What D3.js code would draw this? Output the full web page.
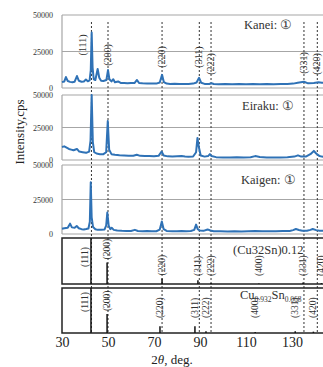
<!DOCTYPE html>
<html>
<head>
<meta charset="utf-8">
<script src="https://cdn.jsdelivr.net/npm/d3@7"></script>
<style>
  body { margin: 0; background: #fff; }
  svg { display: block; overflow: hidden; font-family: "Liberation Serif", "Times New Roman", serif; }
</style>
</head>
<body>
<svg id="chart" width="323" height="367"></svg>
<script>
// --- data: [2theta, intensity cps] ---
const kanei = [
  [30, 4000], [31, 4500], [31.7, 7500], [32.5, 4800], [33.5, 4200], [34.5, 4000], [35.5, 4300],
  [36.5, 8200], [37.3, 5000], [38.5, 4300], [39.5, 4500], [40.4, 5800], [41.2, 4600], [42, 5200],
  [42.5, 12000], [42.9, 38000], [43.3, 14000], [43.8, 6000], [44.5, 5500], [45.5, 13000], [46.2, 7000],
  [47, 5000], [48, 4800], [49.3, 5500], [50, 12300], [50.6, 6000], [51.5, 4500], [52.3, 6000],
  [53, 4000], [54.4, 4500], [55.5, 3500], [57, 3400], [58.5, 3300], [60, 3500], [61.5, 3400],
  [62.6, 5500], [63.5, 3400], [65, 3200], [67, 3100], [69, 3100], [71, 3000], [72.5, 3800],
  [73.5, 9000], [74.3, 4000], [75.5, 3000], [77, 2800], [79, 2900], [81, 2700], [83, 2800],
  [85, 2700], [87, 3000], [88.5, 3800], [89.6, 7000], [90.5, 3600], [92, 2800], [94, 2700],
  [95, 3200], [96, 2700], [98, 2600], [101, 2700], [104, 2600], [107, 2800], [110, 2600],
  [113, 2700], [116, 2600], [119, 2700], [122, 2600], [125, 2700], [128, 2800], [130.5, 3000],
  [132.5, 3600], [135.2, 4300], [137, 3200], [139.5, 3500], [141.5, 3900], [143, 3600], [145, 3500]
];
const eiraku = [
  [30, 10000], [31, 10500], [32, 9500], [33, 8500], [34, 8000], [35, 7500], [36.5, 8500],
  [37.5, 6500], [39, 6000], [40.5, 5500], [41.8, 6500], [42.4, 15000], [42.9, 50000], [43.4, 14000],
  [44, 6000], [45, 5000], [46.5, 4500], [48, 4500], [49.2, 6000], [49.9, 30000], [50.5, 8000],
  [51.5, 4500], [53, 4000], [55, 3600], [57, 3500], [59, 3300], [61, 3300], [62.5, 4000],
  [64, 3200], [66, 3000], [68, 3000], [70, 2900], [72, 3200], [73.3, 6500], [74.2, 3500],
  [76, 2800], [78, 2600], [80, 2800], [82, 3000], [83.5, 2700], [85, 2500], [87, 2700],
  [88.3, 6000], [88.9, 17000], [89.5, 10000], [90.3, 3500], [92, 2600], [93.5, 3000], [94.3, 4500],
  [95, 3000], [97, 2200], [100, 2000], [103, 2000], [106, 2100], [109, 2000], [112, 2100],
  [114, 3000], [116, 2300], [119, 2000], [122, 2000], [125, 2000], [128, 2100], [131, 2600],
  [132.6, 3600], [134, 2600], [136, 2600], [138, 4500], [139.5, 7000], [140.5, 5000], [142, 3000],
  [143, 2600], [145, 2500]
];
const kaigen = [
  [30, 3800], [31, 4200], [32.5, 4500], [33.5, 7500], [34.3, 4800], [35.5, 4500], [36.4, 5800],
  [37.3, 4200], [38.5, 3500], [39.5, 3300], [40.5, 3600], [41.5, 4000], [42.1, 9000], [42.5, 37500],
  [42.9, 12000], [43.5, 5000], [44.5, 3500], [45.5, 3000], [47, 3000], [48.5, 3300], [49.2, 6000],
  [49.7, 15500], [50.3, 6000], [51, 3500], [51.6, 4500], [52.5, 3000], [54, 2500], [56, 2300],
  [58, 2200], [60, 2200], [61.7, 3000], [63, 2200], [65, 2000], [67, 2100], [69, 2000],
  [71, 2000], [72.5, 3200], [73.4, 9000], [74.2, 3500], [75.5, 2200], [78, 2000], [80, 2000],
  [82, 2100], [84, 2000], [86, 2200], [87.5, 3000], [88.3, 6800], [89, 3500], [90, 2500],
  [91.5, 2300], [93.3, 3300], [94.5, 2500], [96, 2000], [99, 2000], [102, 1900], [105, 2000],
  [108, 1900], [111, 2000], [114, 2100], [117, 2000], [120, 2000], [123, 2000], [126, 2100],
  [129, 2200], [130.5, 2800], [131.7, 3600], [133, 2900], [134.5, 2400], [136.5, 2400], [138, 3000],
  [139, 3600], [140.5, 2800], [142, 2400], [145, 2300]
];

const yTicks = [0, 25000, 50000];
const xTicks = [30, 50, 70, 90, 110, 130];

// peak positions marked by dashed lines
const hkl = ['(111)', '(200)', '(220)', '(311)', '(222)', '(331)', '(420)'];
const hklTheta = [42.8, 50.0, 73.5, 89.7, 94.8, 135.2, 141.0];

// reference patterns (relative intensity %)
const refHkl = ['(111)', '(200)', '(220)', '(311)', '(222)', '(400)', '(331)', '(420)'];
const cu32snTheta = [42.6, 49.6, 73.5, 89.1, 94.8, 115.6, 134.8, 142.8];
const cu32snRel = [100, 47, 12, 8, 2, 1, 3, 2];
const cuSnTheta = [42.6, 49.6, 72.6, 87.8, 92.6, 114.0, 131.4, 139.3];
const cuSnRel = [100, 42, 15, 15, 4, 2, 4, 3];

// --- layout ---
const svg = d3.select('#chart');
const left = 62;
const x = d3.scaleLinear().domain([30, 150]).range([left, left + 120 * 2.3]);
const blue = '#2f72b6';
const grid = '#a6a6a6';

const panels = [
  { data: kanei, top: 15, bottom: 88, name: 'Kanei: \u2460', lx: 244, ly: 29 },
  { data: eiraku, top: 95, bottom: 160, name: 'Eiraku: \u2460', lx: 242, ly: 110 },
  { data: kaigen, top: 165, bottom: 234, name: 'Kaigen: \u2460', lx: 241, ly: 184 }
];

panels.forEach(p => {
  const y = d3.scaleLinear().domain([0, 50000]).range([p.bottom, p.top]);
  const g = svg.append('g');
  g.selectAll('.grid')
    .data(yTicks)
    .enter().append('line')
    .attr('x1', left).attr('x2', 323)
    .attr('y1', d => y(d)).attr('y2', d => y(d))
    .attr('stroke', grid).attr('stroke-width', 1.2);
  g.append('line')
    .attr('x1', left).attr('x2', left)
    .attr('y1', p.top).attr('y2', p.bottom)
    .attr('stroke', grid).attr('stroke-width', 1.2);
  const ax = g.append('g')
    .attr('transform', `translate(${left},0)`)
    .call(d3.axisLeft(y).tickValues(yTicks).tickSize(0).tickPadding(9).tickFormat(d3.format('d')));
  ax.select('.domain').remove();
  ax.selectAll('text').attr('font-size', 8).attr('font-family', 'Liberation Serif, serif').attr('fill', '#333');
  p.y = y;
});

// dashed peak lines through all panels
svg.selectAll('.peak')
  .data(hklTheta)
  .enter().append('line')
  .attr('x1', d => x(d)).attr('x2', d => x(d))
  .attr('y1', 22).attr('y2', 333)
  .attr('stroke', '#333').attr('stroke-width', 1).attr('stroke-dasharray', '2,2');

// spectra
panels.forEach(p => {
  const line = d3.line().x(d => x(d[0])).y(d => p.y(d[1]));
  svg.append('path')
    .datum(p.data)
    .attr('d', line)
    .attr('fill', 'none')
    .attr('stroke', blue)
    .attr('stroke-width', 2)
    .attr('stroke-linejoin', 'round');
  svg.append('text')
    .attr('x', p.lx).attr('y', p.ly)
    .attr('font-size', 12.5).attr('fill', '#333')
    .text(p.name);
});

// hkl labels on the top panel
const topLabelY = [45, 55, 57, 57, 64, 63, 64];
svg.selectAll('.hkl')
  .data(hkl)
  .enter().append('text')
  .attr('transform', (d, i) => `translate(${x(hklTheta[i]) + (i === 0 ? -5 : 3)},${topLabelY[i]}) rotate(-90)`)
  .attr('text-anchor', 'middle')
  .attr('font-size', 10).attr('fill', '#333')
  .text(d => d);

// reference stick patterns
const refs = [
  { theta: cu32snTheta, rel: cu32snRel, top: 238, bottom: 284, gap: 8, y111: 257 },
  { theta: cuSnTheta, rel: cuSnRel, top: 288, bottom: 333, gap: 15, y111: 302 }
];
refs.forEach(r => {
  const h = d3.scaleLinear().domain([0, 100]).range([r.bottom, r.top]);
  svg.append('rect')
    .attr('x', left).attr('y', r.top)
    .attr('width', 330).attr('height', r.bottom - r.top)
    .attr('fill', 'none').attr('stroke', '#222').attr('stroke-width', 1.5);
  svg.selectAll(null)
    .data(r.rel)
    .enter().append('line')
    .attr('x1', (d, i) => x(r.theta[i])).attr('x2', (d, i) => x(r.theta[i]))
    .attr('y1', r.bottom).attr('y2', d => h(d))
    .attr('stroke', '#111').attr('stroke-width', 1.5);
  svg.selectAll(null)
    .data(refHkl)
    .enter().append('text')
    .attr('transform', (d, i) => {
      if (i === 0) return `translate(${x(r.theta[i]) - 3},${r.y111}) rotate(-90)`;
      const yb = Math.min(h(r.rel[i]) - 3, r.bottom - r.gap);
      return `translate(${x(r.theta[i]) + 3},${yb}) rotate(-90)`;
    })
    .attr('text-anchor', (d, i) => i === 0 ? 'middle' : 'start')
    .attr('font-size', 9.5).attr('fill', '#333')
    .text(d => d);
});

svg.append('text')
  .attr('x', 233).attr('y', 254)
  .attr('font-size', 12.5).attr('fill', '#333')
  .text('(Cu32Sn)0.12');

const cu = svg.append('text')
  .attr('x', 240).attr('y', 299)
  .attr('font-size', 12.5).attr('fill', '#333');
cu.append('tspan').text('Cu');
cu.append('tspan').attr('font-size', 7.5).attr('dy', 3).text('0.932');
cu.append('tspan').attr('dy', -3).text('Sn');
cu.append('tspan').attr('font-size', 7.5).attr('dy', 3).text('0.068');

// x axis
const xa = svg.append('g')
  .attr('transform', 'translate(0,333)')
  .call(d3.axisBottom(x).tickValues(xTicks).tickSize(0).tickPadding(4));
xa.select('.domain').remove();
xa.selectAll('text').attr('font-size', 14).attr('font-family', 'Liberation Serif, serif').attr('fill', '#222');

const xl = svg.append('text')
  .attr('x', 172).attr('y', 364)
  .attr('text-anchor', 'middle')
  .attr('font-size', 13).attr('fill', '#222');
xl.append('tspan').text('2');
xl.append('tspan').attr('font-style', 'italic').text('\u03b8');
xl.append('tspan').text(', deg.');

svg.append('text')
  .attr('transform', 'translate(24,132) rotate(-90)')
  .attr('text-anchor', 'middle')
  .attr('font-size', 13).attr('fill', '#222')
  .text('Intensity,cps');
</script>
</body>
</html>
